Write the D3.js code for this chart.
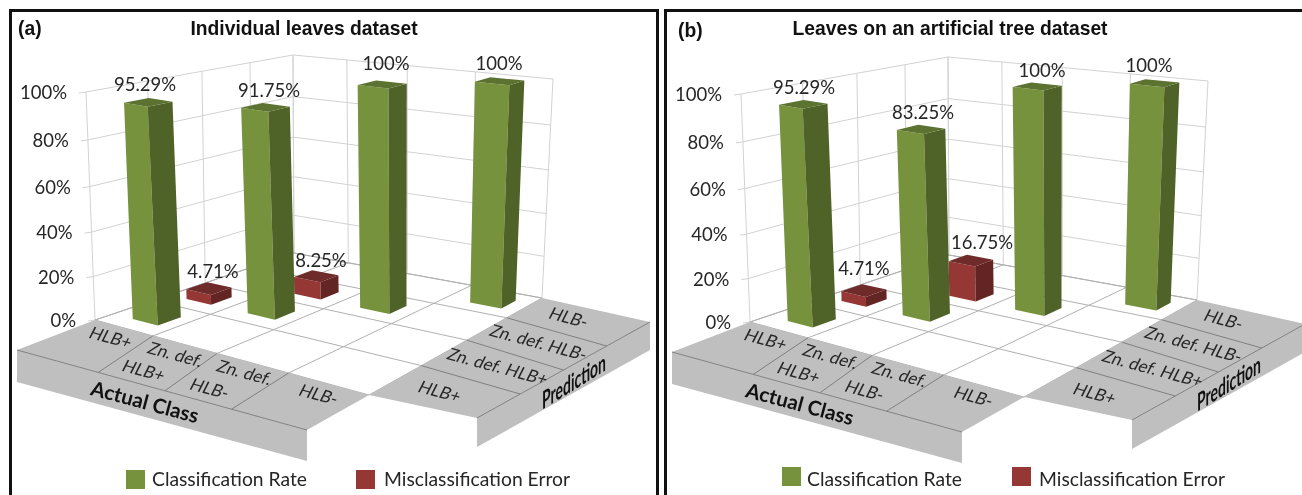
<!DOCTYPE html>
<html>
<head>
  <title>Classification charts</title>
  <script type="text/javascript" src="https://d3js.org/d3.v7.min.js"></script>
  <style type="text/css">
    body { margin: 0px; background: #fff; }
    svg { display: block; filter: blur(0.4px); }
    text { font-family: Lato, "Open Sans", sans-serif; fill: #262626; }
    .title { font-family: "Liberation Sans", Arial, sans-serif; font-weight: bold; font-size: 19.3px; fill: #111; }
    .cell { font-size: 17px; }
    .strip { font-size: 20.5px; font-weight: bold; fill: #111; }
  </style>
</head>
<body>
  <svg width="1302" height="495"></svg>
  <script type="text/javascript">
    var classes = ["HLB+", "Zn. def. HLB+", "Zn. def. HLB-", "HLB-"];
    var tickValues = [0, 20, 40, 60, 80, 100];
    var seriesNames = ["Classification Rate", "Misclassification Error"];

    var rateA = [95.29, 91.75, 100, 100];
    var errorA = [4.71, 8.25];
    var rateB = [95.29, 83.25, 100, 100];
    var errorB = [4.71, 16.75];

    var GREEN = { front: "#76923c", side: "#4f6228", top: "#5b7230", inset: 0.35 };
    var RED = { front: "#953735", side: "#632523", top: "#6e2b29", inset: 0.31 };

    var svg = d3.select("svg");
    var polygon = d3.line().curve(d3.curveLinearClosed);

    // view of panel (a), panel (b) is the same view moved sideways
    var floorCorners = [[95, 320], [369, 395], [542, 298], [294, 253]];
    var topCorners = [[86, 92], [365, 139], [553, 79], [293, 55]];

    function quadMap(q) {
      // unit square -> quad (homography), corners go (0,0) (1,0) (1,1) (0,1)
      var dx1 = q[1][0] - q[2][0], dx2 = q[3][0] - q[2][0], sx = q[0][0] - q[1][0] + q[2][0] - q[3][0];
      var dy1 = q[1][1] - q[2][1], dy2 = q[3][1] - q[2][1], sy = q[0][1] - q[1][1] + q[2][1] - q[3][1];
      var det = dx1 * dy2 - dx2 * dy1;
      var g = (sx * dy2 - dx2 * sy) / det, h = (dx1 * sy - sx * dy1) / det;
      var a = q[1][0] - q[0][0] + g * q[1][0], b = q[3][0] - q[0][0] + h * q[3][0];
      var d = q[1][1] - q[0][1] + g * q[1][1], e = q[3][1] - q[0][1] + h * q[3][1];
      return function(u, w) {
        var z = g * u + h * w + 1;
        return [(a * u + b * w + q[0][0]) / z, (d * u + e * w + q[0][1]) / z];
      };
    }

    var floorMap = quadMap(floorCorners);
    var topMap = quadMap(topCorners);

    var cellScale = d3.scaleBand().domain(classes).range([0, 1]);
    var heightScale = d3.scaleLinear().domain([0, 100]).range([0, 1]);

    function project(u, w, value) {
      var t = heightScale(value);
      t = 0.94 * t / (1 - 0.06 * t);   // slight perspective on the height
      var p0 = floorMap(u, w), p1 = topMap(u, w);
      return [p0[0] + (p1[0] - p0[0]) * t, p0[1] + (p1[1] - p0[1]) * t];
    }

    function drawBar(g, col, row, value, colors) {
      var c = cellScale.step();
      var u0 = cellScale(classes[col]) + c * colors.inset, u1 = u0 + c * 0.43;
      var w0 = cellScale(classes[row]) + c * 0.3, w1 = w0 + c * 0.4;
      g.append("path").attr("fill", colors.front)
        .attr("d", polygon([project(u0, w0, 0), project(u1, w0, 0), project(u1, w0, value), project(u0, w0, value)]));
      g.append("path").attr("fill", colors.side)
        .attr("d", polygon([project(u1, w0, 0), project(u1, w1, 0), project(u1, w1, value), project(u1, w0, value)]));
      g.append("path").attr("fill", colors.top)
        .attr("d", polygon([project(u0, w0, value), project(u1, w0, value), project(u1, w1, value), project(u0, w1, value)]));
    }

    function cellLabel(g, text, x, y, cls) {
      g.append("text").attr("class", cls || "cell")
        .attr("text-anchor", "middle")
        .attr("transform", "translate(" + x + "," + y + ") rotate(15) skewX(" + (cls ? 0 : -12) + ")")
        .text(text);
    }

    function drawPanel(opts) {
      var g = svg.append("g").attr("transform", "translate(" + opts.dx + "," + opts.dy + ")");
      var fmt = function(d) { return d + "%"; };

      // walls
      var wallColor = "#d2d2d2", floorColor = "#b0b0b0";
      tickValues.forEach(function(v) {
        g.append("path").attr("fill", "none").attr("stroke", v === 0 ? floorColor : wallColor)
          .attr("d", d3.line()([project(0, 0, v), project(0, 1, v), project(1, 1, v)]));
        var p = project(0, 0, v);
        g.append("line").attr("stroke", wallColor)
          .attr("x1", p[0] - 7).attr("y1", p[1] + 1).attr("x2", p[0]).attr("y2", p[1]);
        g.append("text").attr("x", p[0] - 19).attr("y", p[1] + 7)
          .attr("text-anchor", "end").style("font-size", "18.5px").text(fmt(v));
      });
      d3.range(5).forEach(function(i) {
        var t = i / 4;
        g.append("line").attr("stroke", wallColor)
          .attr("x1", project(0, t, 0)[0]).attr("y1", project(0, t, 0)[1])
          .attr("x2", project(0, t, 100)[0]).attr("y2", project(0, t, 100)[1]);
        g.append("line").attr("stroke", wallColor)
          .attr("x1", project(t, 1, 0)[0]).attr("y1", project(t, 1, 0)[1])
          .attr("x2", project(t, 1, 100)[0]).attr("y2", project(t, 1, 100)[1]);
        // floor grid
        g.append("line").attr("stroke", floorColor)
          .attr("x1", project(t, 0, 0)[0]).attr("y1", project(t, 0, 0)[1])
          .attr("x2", project(t, 1, 0)[0]).attr("y2", project(t, 1, 0)[1]);
        g.append("line").attr("stroke", floorColor)
          .attr("x1", project(0, t, 0)[0]).attr("y1", project(0, t, 0)[1])
          .attr("x2", project(1, t, 0)[0]).attr("y2", project(1, t, 0)[1]);
      });

      // the two grey label strips, actual class along the front left edge
      var actualOuter = [[17, 350], [307, 430]];
      var predOuter = [[477, 418], [650, 322]];
      var stripFill = "#bfbfbf", stripLine = "#808080";
      g.append("path").attr("fill", stripFill)
        .attr("d", polygon([project(0, 0, 0), project(1, 0, 0), actualOuter[1], actualOuter[0]]));
      g.append("path").attr("fill", stripFill)
        .attr("d", polygon([actualOuter[0], actualOuter[1], [actualOuter[1][0], actualOuter[1][1] + 31], [actualOuter[0][0], actualOuter[0][1] + 32]]));
      g.append("path").attr("fill", stripFill)
        .attr("d", polygon([project(1, 0, 0), project(1, 1, 0), predOuter[1], predOuter[0]]));
      g.append("path").attr("fill", stripFill)
        .attr("d", polygon([predOuter[0], predOuter[1], [predOuter[1][0], predOuter[1][1] + 28], [predOuter[0][0], predOuter[0][1] + 29]]));
      g.append("line").attr("stroke", stripLine)
        .attr("x1", actualOuter[0][0]).attr("y1", actualOuter[0][1])
        .attr("x2", actualOuter[1][0]).attr("y2", actualOuter[1][1]);
      g.append("line").attr("stroke", stripLine)
        .attr("x1", predOuter[0][0]).attr("y1", predOuter[0][1])
        .attr("x2", predOuter[1][0]).attr("y2", predOuter[1][1]);

      var actualOuterMap = d3.interpolateArray(actualOuter[0], actualOuter[1]);
      var predOuterMap = d3.interpolateArray(predOuter[0], predOuter[1]);
      [1, 2, 3].forEach(function(i) {
        var t = i / 4;
        var a = project(t, 0, 0), b = actualOuterMap(t - 0.02 * (i - 2) + 0.01);
        g.append("line").attr("stroke", stripLine).attr("x1", a[0]).attr("y1", a[1]).attr("x2", b[0]).attr("y2", b[1]);
        var c = project(1, t, 0), d = predOuterMap(t);
        g.append("line").attr("stroke", stripLine).attr("x1", c[0]).attr("y1", c[1]).attr("x2", d[0]).attr("y2", d[1]);
      });

      cellLabel(g, "HLB+", 108, 343);
      cellLabel(g, "Zn. def.", 173, 360);
      cellLabel(g, "HLB+", 141, 376);
      cellLabel(g, "Zn. def.", 242, 378);
      cellLabel(g, "HLB-", 207, 394);
      cellLabel(g, "HLB-", 316, 400);
      cellLabel(g, "HLB-", 566, 323);
      cellLabel(g, "Zn. def. HLB-", 536, 348);
      cellLabel(g, "Zn. def. HLB+", 495, 372);
      cellLabel(g, "HLB+", 437, 397);
      cellLabel(g, "Actual Class", 143, 409, "strip");
      g.append("text").attr("class", "strip").attr("text-anchor", "middle")
        .attr("transform", "translate(574,390) matrix(0.68,-0.42,0,1.2,0,0)")
        .text("Prediction");

      // bars, far ones first
      opts.errors.forEach(function(v, i) { drawBar(g, i, i + 1, v, RED); });
      opts.rates.forEach(function(v, i) { drawBar(g, i, i, v, GREEN); });

      // value labels sit where the author dragged them
      opts.rates.concat(opts.errors).forEach(function(v, i) {
        g.append("text").attr("x", opts.labelAt[i][0]).attr("y", opts.labelAt[i][1] + 6)
          .attr("text-anchor", "middle").style("font-size", "18.5px")
          .text(fmt(v));
      });
    }

    drawPanel({
      dx: 0, dy: 0, rates: rateA, errors: errorA,
      labelAt: [[145, 85], [269, 91], [386, 64], [499, 64], [213, 272], [321, 261]]
    });
    drawPanel({
      dx: 655, dy: 2, rates: rateB, errors: errorB,
      labelAt: [[149, 86], [268, 111], [387, 69], [494, 64], [209, 267], [327, 241]]
    });

    // frames
    svg.append("path").attr("fill", "none").attr("stroke", "#111").attr("stroke-width", 3)
      .attr("d", "M10.5,500V10.5H657.5V500");
    svg.append("path").attr("fill", "none").attr("stroke", "#111").attr("stroke-width", 3)
      .attr("d", "M665.5,500V10.5H1310");

    // titles
    svg.append("text").attr("class", "title").attr("x", 18).attr("y", 35).text("(a)");
    svg.append("text").attr("class", "title").attr("x", 678).attr("y", 37).text("(b)");
    svg.append("text").attr("class", "title").attr("x", 304).attr("y", 35).attr("text-anchor", "middle").text("Individual leaves dataset");
    svg.append("text").attr("class", "title").attr("x", 950).attr("y", 35).attr("text-anchor", "middle").text("Leaves on an artificial tree dataset");

    // legends
    [
      { x: 126, y: 470, color: GREEN.front, name: seriesNames[0], tx: 152 },
      { x: 356, y: 470, color: RED.front, name: seriesNames[1], tx: 384 },
      { x: 782, y: 467, color: GREEN.front, name: seriesNames[0], tx: 807 },
      { x: 1012, y: 467, color: RED.front, name: seriesNames[1], tx: 1039 }
    ].forEach(function(d) {
      svg.append("rect").attr("x", d.x).attr("y", d.y).attr("width", 19).attr("height", 19).attr("fill", d.color);
      svg.append("text").attr("x", d.tx).attr("y", 486).style("font-size", "19.3px").text(d.name);
    });
  </script>
</body>
</html>
